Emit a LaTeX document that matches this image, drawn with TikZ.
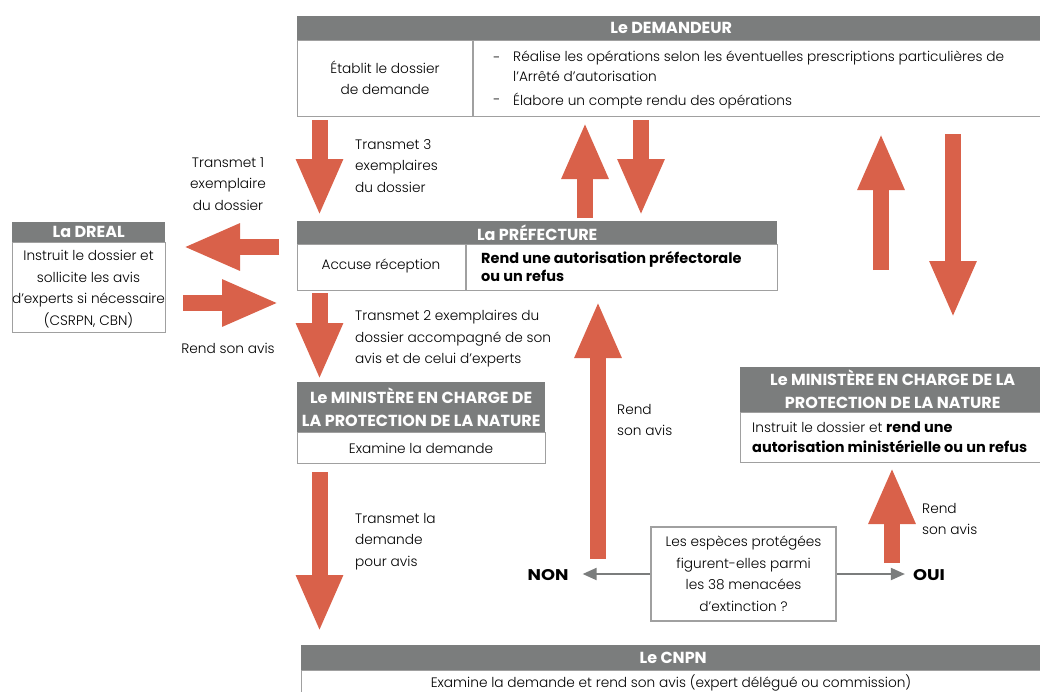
\documentclass[tikz,border=0pt]{standalone}
\usepackage{fontspec}
\setmainfont{Poppins}[UprightFont=* Light, BoldFont=* Bold]
\usetikzlibrary{arrows.meta,positioning}

\definecolor{rouge}{HTML}{D9614A}
\definecolor{entete}{HTML}{7B7D7D}
\definecolor{bord}{HTML}{A0A0A0}

\tikzset{
  titre/.style={fill=entete, text=white, font=\fontsize{16}{23}\selectfont\bfseries,
    inner sep=0pt, anchor=north west, align=center},
  corps/.style={draw=bord, line width=1.2pt, inner sep=0pt, anchor=north west},
  texte/.style={font=\fontsize{13.7}{21.5}\selectfont, inner sep=0pt},
  gras/.style={font=\fontsize{14.5}{18}\selectfont\bfseries},
  legende/.style={texte, align=left, anchor=north west},
  reponse/.style={inner sep=0pt, font=\fontsize{15.5}{18}\selectfont\bfseries\addfontfeature{FakeStretch=1.15}},
  fleche/.style={rouge, line width=16pt, -{Triangle[length=57pt,width=43pt]}},
  lien/.style={entete, line width=2pt, -{Triangle[length=14pt,width=12pt]}},
}

\begin{document}
\begin{tikzpicture}[x=1pt,y=-1pt]
  \useasboundingbox (0,0) rectangle (1040,691);

  % Le demandeur
  \node[titre, minimum width=748pt, minimum height=24pt] (demT) at (297,16) {Le DEMANDEUR};
  \node[corps, minimum width=748pt, minimum height=76pt] (demB) at (297,40) {};
  \draw[bord, line width=1.2pt] (473,40) -- (473,116);
  \node[texte, align=center] (demG) at (385,78) {Établit le dossier\\de demande};
  \node[texte] (tiret1) at (497,60) {-};
  \node[texte] (tiret2) at (497,102) {-};
  \node[legende, font=\fontsize{13.7}{19.5}\selectfont] (demD1) at (513,51) {Réalise les opérations selon les éventuelles prescriptions particulières de\\l’Arrêté d’autorisation};
  \node[legende] (demD2) at (513,93) {Élabore un compte rendu des opérations};

  % La prefecture
  \node[titre, minimum width=480pt, minimum height=23pt] (prefT) at (297,221) {La PRÉFECTURE};
  \node[corps, minimum width=480pt, minimum height=46pt] (prefB) at (297,244) {};
  \draw[bord, line width=1.2pt] (466,244) -- (466,290);
  \node[legende, gras] (prefD) at (481,251) {Rend une autorisation préfectorale\\ou un refus};
  \node[texte] (prefG) at (381,266) {Accuse réception};

  % La DREAL
  \node[titre, minimum width=153pt, minimum height=20pt] (drealT) at (12,222) {La DREAL};
  \node[corps, minimum width=153pt, minimum height=90pt] (drealB) at (12,242) {};
  \node[texte, align=center] (drealTx) at (88.5,289) {Instruit le dossier et\\sollicite les avis\\d’experts si nécessaire\\(CSRPN, CBN)};

  % Le ministere (gauche)
  \node[titre, minimum width=248pt, minimum height=50pt] (minT) at (297,382) {Le MINISTÈRE EN CHARGE DE\\LA PROTECTION DE LA NATURE};
  \node[corps, minimum width=248pt, minimum height=31pt] (minB) at (297,432) {};
  \node[texte] (minTx) at (421,448) {Examine la demande};

  % Le ministere (droite)
  \node[titre, minimum width=305pt, minimum height=45pt] (min2T) at (740,367) {Le MINISTÈRE EN CHARGE DE LA\\PROTECTION DE LA NATURE};
  \node[corps, minimum width=305pt, minimum height=50pt] (min2B) at (740,412) {};
  \node[legende, font=\fontsize{13.7}{20}\selectfont] (min2Tx) at (752,422) {Instruit le dossier et {\fontsize{14.5}{20}\selectfont\bfseries rend une}\\{\fontsize{14.5}{20}\selectfont\bfseries autorisation ministérielle ou un refus}};

  % Le CNPN
  \node[titre, minimum width=744pt, minimum height=25pt] (cnpnT) at (301,645) {Le CNPN};
  \node[corps, minimum width=744pt, minimum height=40pt] (cnpnB) at (301,670) {};
  \node[texte] (cnpnTx) at (671,683) {Examine la demande et rend son avis (expert délégué ou commission)};

  % Question
  \node[draw=bord, line width=1.2pt, minimum width=185pt, minimum height=94pt, texte, align=center] (quest) at (743.5,574) {Les espèces protégées\\figurent-elles parmi\\les 38 menacées\\d’extinction ?};
  \node[reponse] (non) at (548,575) {NON};
  \node[reponse] (oui) at (929,575) {OUI};
  \draw[lien, shorten >=14pt] (quest.west) -- (quest.west -| non.east);
  \draw[lien, shorten >=8pt] (quest.east) -- (quest.east -| oui.west);

  % Fleches
  \coordinate (f1a) at (319.5,120);  \coordinate (f1b) at (319.5,216);
  \coordinate (f2a) at (585,218);    \coordinate (f2b) at (585,122);
  \coordinate (f3a) at (641,120);    \coordinate (f3b) at (641,216);
  \coordinate (f4a) at (881,270);    \coordinate (f4b) at (881,133);
  \coordinate (f5a) at (953,134);    \coordinate (f5b) at (953,318);
  \coordinate (f6a) at (279,247);    \coordinate (f6b) at (183,247);
  \coordinate (f7a) at (183,303);    \coordinate (f7b) at (279,303);
  \coordinate (f8a) at (319.5,293);  \coordinate (f8b) at (319.5,380);
  \coordinate (f9a) at (319.5,472);  \coordinate (f9b) at (319.5,632);
  \coordinate (f10a) at (598,559);   \coordinate (f10b) at (598,301);
  \coordinate (f11a) at (892,563);   \coordinate (f11b) at (892,467);
  \foreach \i in {1,...,11}
    \draw[fleche] (f\i a) -- (f\i b);

  % Legendes
  \node[legende] (l1) at (355,139) {Transmet 3\\exemplaires\\du dossier};
  \node[texte, align=center, anchor=north] (l2) at (228,157) {Transmet 1\\exemplaire\\du dossier};
  \node[texte] (l3) at (228,348) {Rend son avis};
  \node[legende] (l4) at (355,310) {Transmet 2 exemplaires du\\dossier accompagné de son\\avis et de celui d’experts};
  \node[legende] (l5) at (355,513) {Transmet la\\demande\\pour avis};
  \node[legende] (l6) at (617,404) {Rend\\son avis};
  \node[legende] (l7) at (922,503) {Rend\\son avis};
\end{tikzpicture}
\end{document}
